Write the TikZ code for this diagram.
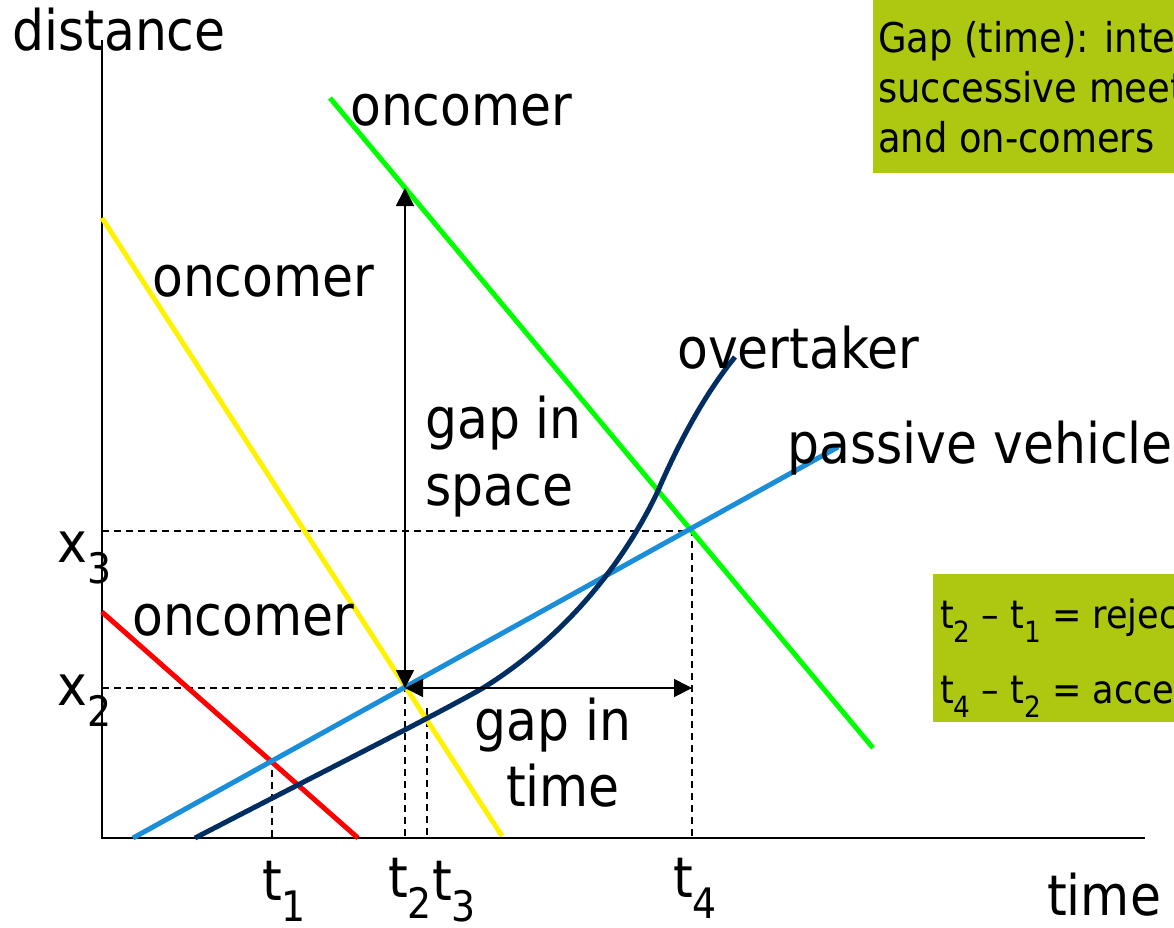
\documentclass[tikz,border=0pt]{standalone}
\usepackage{fontspec}
\setmainfont{DejaVu Sans Condensed}
\usetikzlibrary{arrows.meta}
\definecolor{boxgreen}{RGB}{174,199,16}
\definecolor{pblue}{RGB}{27,142,218}
\definecolor{navy}{RGB}{0,45,98}
\definecolor{ongreen}{RGB}{0,255,0}
\newcommand{\lsub}[1]{\raisebox{-0.38em}{\scalebox{0.75}{#1}}}
\begin{document}
\begin{tikzpicture}[x=1pt,y=-1pt,
  big/.style={font=\fontsize{56}{64}\selectfont, inner sep=0pt},
  boxtxt/.style={font=\fontsize{41}{50}\selectfont, inner sep=0pt, anchor=base west},
  axis/.style={line width=1.8pt, black},
  guide/.style={line width=1.3pt, dashed, dash pattern=on 7pt off 5pt},
  veh/.style={line width=5pt},
  gaparrow/.style={line width=1.8pt, {Triangle[length=18pt,width=18pt]}-{Triangle[length=18pt,width=18pt]}}]
\useasboundingbox (0,0) rectangle (1174,927);
\clip (0,0) rectangle (1174,927);
% boxes
\fill[boxgreen] (873,0) rectangle (1180,173);
\fill[boxgreen] (933,574) rectangle (1180,722);
\node[boxtxt] (b1) at (878,52) {Gap (time): inte};
\node[boxtxt] (b2) at (878,102) {successive meet};
\node[boxtxt] (b3) at (878,152) {and on-comers};
\node[boxtxt, font=\fontsize{39}{50}\selectfont] (r1) at (940,628) {t\lsub{2} -- t\lsub{1} = rejec};
\node[boxtxt, font=\fontsize{39}{50}\selectfont] (r2) at (940,703) {t\lsub{4} -- t\lsub{2} = acce};
% axes
\coordinate (O) at (102,838);
\coordinate (ytop) at (102,40);
\coordinate (xend) at (1145,838);
\draw[axis] (ytop) -- (O) -- (xend);
% guides
\coordinate (X3) at (102,531);
\coordinate (P4) at (692,531);
\coordinate (T4) at (692,838);
\coordinate (X2) at (102,688);
\coordinate (P2) at (405,688);
\coordinate (T2) at (405,838);
\coordinate (P1) at (272,758);
\coordinate (T1) at (272,838);
\coordinate (P3) at (427,708);
\coordinate (T3) at (427,838);
\coordinate (G4) at (692,688);
\draw[guide] (X3) -- (P4) -- (T4);
\draw[guide] (X2) -- (P2) -- (T2);
\draw[guide] (P1) -- (T1);
\draw[guide] (P3) -- (T3);
% vehicles
\draw[veh, red] (102,612) -- (358,838);
\draw[veh, yellow] (102,218) -- (502,836);
\draw[veh, ongreen] (330,98) -- (873,748);
\draw[veh, pblue] (133,838) -- (838,447);
\draw[veh, navy] (195,838) .. controls (330,768) and (430,718) .. (483,688)
  .. controls (560,640) and (620,570) .. (657,493)
  .. controls (682,435) and (708,390) .. (735,357);
% gap arrows
\coordinate (S1) at (405,188);
\draw[gaparrow] (P2) -- (S1);
\draw[gaparrow] (P2) -- (G4);
% labels
\node[big, anchor=base west] (dist) at (12,50) {distance};
\node[big, anchor=base west] (time) at (1047,915) {time};
\node[big, anchor=base west] (on1) at (350,125) {oncomer};
\node[big, anchor=base west] (on2) at (152,296) {oncomer};
\node[big, anchor=base west] (on3) at (132,635) {oncomer};
\node[big, anchor=base west] (ovt) at (677,368) {overtaker};
\node[big, anchor=base west] (pas) at (787,463) {passive vehicle};
\node[big, anchor=base west] (gs1) at (425,438) {gap in};
\node[big, anchor=base west] (gs2) at (425,505) {space};
\node[big, anchor=base] (gt1) at (553,740) {gap in};
\node[big, anchor=base] (gt2) at (563,806) {time};
\node[big, anchor=base west] (x3) at (57,562) {x\lsub{3}};
\node[big, anchor=base west] (x2) at (57,705) {x\lsub{2}};
\node[big, anchor=base west] (t1) at (262,900) {t\lsub{1}};
\node[big, anchor=base west] (t2) at (388,897) {t\lsub{2}};
\node[big, anchor=base west] (t3) at (432,900) {t\lsub{3}};
\node[big, anchor=base west] (t4) at (673,897) {t\lsub{4}};
\end{tikzpicture}
\end{document}
